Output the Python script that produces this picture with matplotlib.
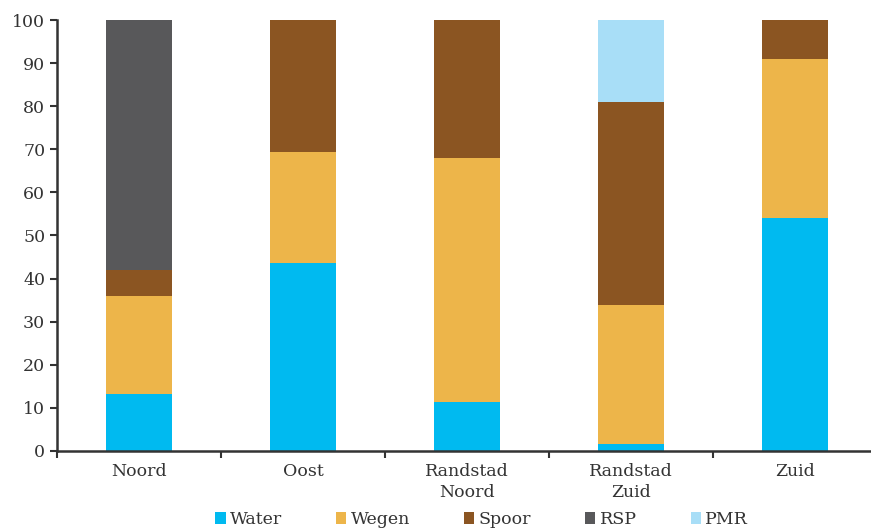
import matplotlib.pyplot as plt
import numpy as np

regions = ['Noord', 'Oost', 'Randstad\nNoord', 'Randstad\nZuid', 'Zuid']
water = [13.2, 43.6, 11.4, 1.6, 54.1]
wegen = [22.8, 25.8, 56.6, 32.3, 36.9]
spoor = [6.0, 30.6, 32.0, 47.1, 9.0]
rsp = [58.0, 0, 0, 0, 0]
pmr = [0, 0, 0, 19.0, 0]

series = [('Water', water, '#00BAF0'), ('Wegen', wegen, '#EDB54A'),
          ('Spoor', spoor, '#8B5522'), ('RSP', rsp, '#58585A'),
          ('PMR', pmr, '#A8DEF7')]

plt.rcParams['font.family'] = ['DejaVu Serif']
fig = plt.figure(figsize=(8.71, 5.31), dpi=100)
ax = fig.add_axes([0.0654, 0.1507, 0.9414, 0.8116])

x = np.arange(len(regions))
bottom = np.zeros(len(regions))
handles = []
for name, vals, col in series:
    b = ax.bar(x, vals, 0.4, bottom=bottom, color=col, label=name)
    bottom += np.array(vals)
    handles.append(b)

fs = 12.5
ax.set_xlim(-0.5, 4.5)
ax.set_ylim(0, 100)
ax.set_yticks(range(0, 101, 10))
ax.set_xticks(x)
ax.set_xticklabels(regions, fontsize=fs, color='#333333', linespacing=1.25)
ax.set_xticks(np.arange(-0.5, 4.6, 1), minor=True)
ax.tick_params(axis='x', which='major', length=0, pad=9)
ax.tick_params(axis='x', which='minor', length=5, width=1.5, color='#333333', direction='out')
ax.tick_params(axis='y', length=5, width=1.5, color='#333333', labelsize=fs, labelcolor='#333333')
for s in ['top', 'right']:
    ax.spines[s].set_visible(False)
for s in ['left', 'bottom']:
    ax.spines[s].set_linewidth(1.8)
    ax.spines[s].set_color('#333333')

fig.legend(handles=handles, loc='lower left', bbox_to_anchor=(0.229, -0.024), ncol=5,
           frameon=False, fontsize=fs, handlelength=0.6, handleheight=0.6,
           handletextpad=0.25, columnspacing=3.1, labelcolor='#333333')

fig.savefig('out.png', dpi=100)
